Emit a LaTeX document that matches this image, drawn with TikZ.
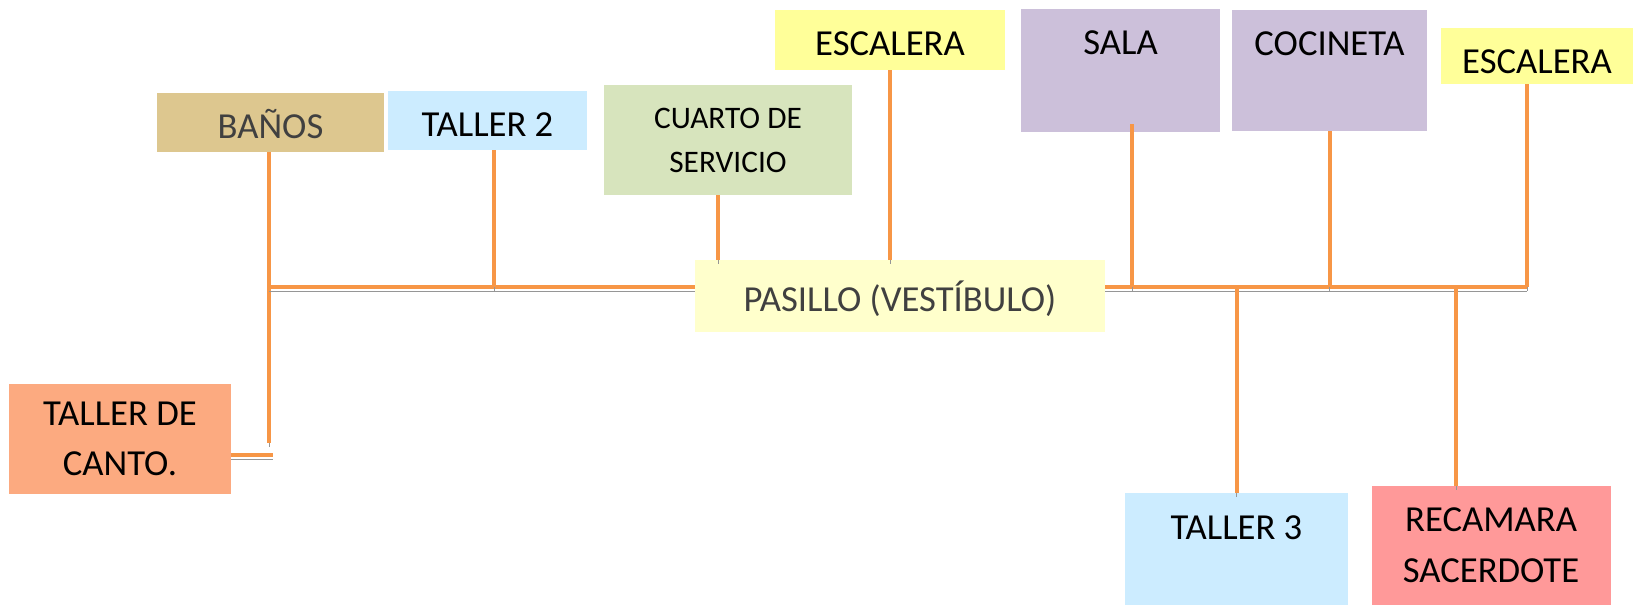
\documentclass[tikz,border=0pt]{standalone}
\usepackage{fontspec}
\setmainfont{Carlito}
\usetikzlibrary{positioning}

\definecolor{cantoC}{RGB}{252,170,128}
\definecolor{banosC}{RGB}{221,199,143}
\definecolor{tallerC}{RGB}{204,236,255}
\definecolor{cuartoC}{RGB}{215,228,189}
\definecolor{escC}{RGB}{255,255,153}
\definecolor{pasilloC}{RGB}{255,255,204}
\definecolor{salaC}{RGB}{204,192,218}
\definecolor{recamaraC}{RGB}{255,153,153}
\definecolor{wireC}{RGB}{247,150,70}
\definecolor{shadowC}{RGB}{150,150,150}
\definecolor{darktext}{RGB}{64,64,64}

\begin{document}
\begin{tikzpicture}[
    x=0.75pt, y=-0.75pt,
    box/.style={rectangle, inner sep=0pt, align=center, font=\fontsize{27.5}{38}\selectfont},
    oneline/.style={text height=24pt, text depth=0pt},
    toptext/.style={text height=18pt, text depth=#1},
    wire/.style={draw=wireC, line width=3pt, preaction={draw=shadowC, transform canvas={yshift=-3pt}}}
]
    \useasboundingbox (0,0) rectangle (1633,605);

    % Rooms
    \node[box, fill=cantoC, minimum width=166.5pt, minimum height=82.5pt] (canto) at (120,439) {TALLER DE\\CANTO.};
    \node[box, oneline, fill=banosC, text=darktext, minimum width=170.25pt, minimum height=44.25pt] (banos) at (270.5,122.5) {BAÑOS};
    \node[box, oneline, fill=tallerC, minimum width=149.25pt, minimum height=44.25pt] (taller2) at (487.5,120.5) {TALLER 2};
    \node[box, fill=cuartoC, font=\fontsize{23.5}{33}\selectfont, minimum width=186pt, minimum height=82.5pt] (cuarto) at (728,140) {CUARTO DE\\SERVICIO};
    \node[box, oneline, fill=escC, minimum width=172.5pt, minimum height=45pt] (esc1) at (890,40) {ESCALERA};
    \node[box, oneline, fill=pasilloC, text=darktext, minimum width=307.5pt, minimum height=54pt] (pasillo) at (900,296) {PASILLO (VESTÍBULO)};
    \node[box, toptext=42pt, fill=salaC, minimum width=149.25pt, minimum height=92.25pt] (sala) at (1120.5,70.5) {SALA};
    \node[box, toptext=40pt, fill=salaC, minimum width=146.25pt, minimum height=90.75pt] (cocineta) at (1329.5,70.5) {COCINETA};
    \node[box, text height=25.6pt, text depth=0pt, fill=escC, minimum width=144pt, minimum height=42pt] (esc2) at (1537,56) {ESCALERA};
    \node[box, toptext=32.6pt, fill=tallerC, minimum width=167.25pt, minimum height=84pt] (taller3) at (1236.5,549) {TALLER 3};
    \node[box, fill=recamaraC, minimum width=179.25pt, minimum height=89.25pt] (recamara) at (1491,545.5) {RECAMARA\\SACERDOTE};

    % Junction points
    \coordinate (jl) at (269,287);
    \coordinate (jr) at (1527,287);
    \coordinate (cantoend) at (269,443);
    \coordinate (cantotip) at (273,455);
    \coordinate (t2drop) at ([xshift=4.9pt]taller2.south);
    \coordinate (cuartodrop) at ([xshift=-7.5pt]cuarto.south);
    \coordinate (saladrop) at ([xshift=8.6pt, yshift=6pt]sala.south);
    \coordinate (esc2drop) at ([xshift=-7.5pt]esc2.south);
    \coordinate (recdrop) at ([xshift=-26pt]recamara.north);

    % Corridor lines
    \draw[wire] (jl |- banos.south) -- (cantoend);
    \draw[wire] (canto.east |- cantotip) -- (cantotip);
    \draw[wire] (jl) -- (pasillo.west |- jl);
    \draw[wire] (t2drop) -- (t2drop |- jl);
    \draw[wire] (cuartodrop) -- (cuartodrop |- pasillo.north);
    \draw[wire] (esc1.south) -- (esc1.south |- pasillo.north);
    \draw[wire] (pasillo.east |- jr) -- (jr);
    \draw[wire] (saladrop) -- (saladrop |- jr);
    \draw[wire] (cocineta.south) -- (cocineta.south |- jr);
    \draw[wire] (esc2drop) -- (jr);
    \draw[wire] (taller3.north |- jr) -- (taller3.north);
    \draw[wire] (recdrop |- jr) -- (recdrop);
\end{tikzpicture}
\end{document}
